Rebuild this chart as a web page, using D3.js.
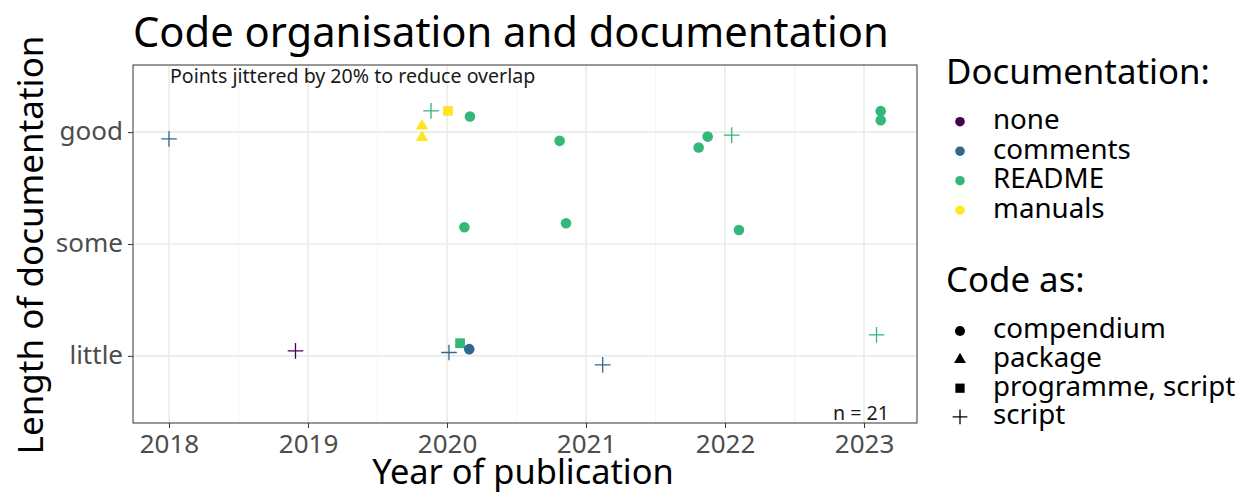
<!DOCTYPE html>
<html><head><meta charset="utf-8">
<script src="https://cdn.jsdelivr.net/npm/d3@7"></script>
<style>body{margin:0;background:#fff}text{font-family:"Noto Sans",sans-serif}</style>
</head><body><svg id="c" width="1238" height="493"></svg>
<script>
const levels = ["little","some","good"];
const xTicks = [2018,2019,2020,2021,2022,2023];
const docLevels = ["none","comments","README","manuals"];
const docColors = ["#440154","#31688E","#35B779","#FDE725"];
const codeLevels = ["compendium","package","programme, script","script"];
// jittered points
const year  = [2018.00,2019.885,2020.007,2020.165,2019.82,2019.82,2020.81,2021.875,2021.81,2022.048,2023.12,2023.12,2020.125,2018.91,2020.014,2020.094,2020.16,2020.856,2022.10,2021.12,2023.09];
const level = ["good","good","good","good","good","good","good","good","good","good","good","good","some","little","little","little","little","some","some","little","little"];
const yJit  = [-0.06,0.19,0.19,0.14,0.056,-0.047,-0.078,-0.04,-0.137,-0.027,0.1875,0.107,0.149,0.045,0.03,0.113,0.06,0.185,0.125,-0.08,0.1875];
const doc   = ["comments","README","manuals","README","manuals","manuals","README","README","README","README","README","README","README","none","comments","README","comments","README","README","comments","README"];
const code  = ["script","script","programme, script","compendium","package","package","compendium","compendium","compendium","script","compendium","compendium","compendium","script","script","programme, script","compendium","compendium","compendium","script","script"];

const svg = d3.select("#c");
const L=133,R=917,T=65,B=423;
const x = d3.scaleLinear().domain([2017.741,2023.381]).range([L,R]);
const y = d3.scaleLinear().domain([0.4,3.6]).range([B,T]);
const yPos = l => levels.indexOf(l)+1;
const color = d3.scaleOrdinal().domain(docLevels).range(docColors);

// grid
const g = svg.append("g");
const minor = d3.range(2017.5,2024,1).filter(v=>v>=x.domain()[0]&&v<=x.domain()[1]);
g.selectAll(".mx").data(minor).join("line").attr("x1",d=>x(d)).attr("x2",d=>x(d)).attr("y1",T).attr("y2",B).attr("stroke","#f2f2f2").attr("stroke-width",0.8);
g.selectAll(".Mx").data(xTicks).join("line").attr("x1",d=>x(d)).attr("x2",d=>x(d)).attr("y1",T).attr("y2",B).attr("stroke","#ebebeb").attr("stroke-width",1.6);
g.selectAll(".My").data([1,2,3]).join("line").attr("x1",L).attr("x2",R).attr("y1",d=>y(d)).attr("y2",d=>y(d)).attr("stroke","#ebebeb").attr("stroke-width",1.6);

// axes
const xa = svg.append("g").attr("transform",`translate(0,${B})`).call(d3.axisBottom(x).tickValues(xTicks).tickFormat(d3.format("d")).tickSize(5).tickPadding(4));
const ya = svg.append("g").attr("transform",`translate(${L},0)`).call(d3.axisLeft(y).tickValues([1,2,3]).tickFormat(d=>levels[d-1]).tickSize(5).tickPadding(5));
[xa,ya].forEach(a=>{a.select(".domain").remove();a.selectAll("line").attr("stroke","#333");a.selectAll("text").attr("fill","#4d4d4d").style("font-size","26px");});
xa.selectAll("text").attr("dy",null).attr("y",null).attr("transform","translate(0,30)");
ya.selectAll("text").attr("dy","0.3em");

svg.append("rect").attr("x",L).attr("y",T).attr("width",R-L).attr("height",B-T).attr("fill","none").attr("stroke","#333").attr("stroke-width",1);

// points
function drawShape(sel, shape, fill, s){
  if(shape==="script"){
    const h=7.8*s;
    sel.append("path").attr("d",`M${-h},0H${h}M0,${-h}V${h}`).attr("stroke",fill).attr("stroke-width",1.3).attr("fill","none");
  } else {
    const type = shape==="compendium"?d3.symbolCircle:shape==="package"?d3.symbolTriangle:d3.symbolSquare;
    const size = shape==="compendium"?88*s*s:shape==="package"?68*s*s:95*s*s;
    sel.append("path").attr("d",d3.symbol().type(type).size(size)()).attr("fill",fill);
  }
}
const pts = svg.append("g");
year.forEach((yr,i)=>{
  const p = pts.append("g").attr("transform",`translate(${x(yr)},${y(yPos(level[i])+yJit[i])})`);
  drawShape(p, code[i], color(doc[i]), 1);
});

// annotations
svg.append("text").attr("x",170).attr("y",83).style("font-size","19.6px").attr("fill","#1a1a1a").text("Points jittered by 20% to reduce overlap");
svg.append("text").attr("x",889).attr("y",420).attr("text-anchor","end").style("font-size","19.6px").attr("fill","#1a1a1a").text("n = " + year.length);

// titles
svg.append("text").attr("x",133).attr("y",47).style("font-size","41.7px").attr("fill","#000").text("Code organisation and documentation");
svg.append("text").attr("x",523).attr("y",484).attr("text-anchor","middle").style("font-size","34.4px").attr("fill","#000").text("Year of publication");
svg.append("text").attr("transform","translate(43,245) rotate(-90)").attr("text-anchor","middle").style("font-size","35px").attr("fill","#000").text("Length of documentation");

// legends
const lg = svg.append("g");
lg.append("text").attr("x",946).attr("y",84).style("font-size","34.8px").text("Documentation:");
docLevels.forEach((d,i)=>{
  const yy = 121.7 + i*29.5;
  lg.append("circle").attr("cx",960).attr("cy",yy).attr("r",4.8).attr("fill",docColors[i]);
  lg.append("text").attr("x",993).attr("y",yy).attr("dy","0.27em").style("font-size","27.7px").text(d);
});
lg.append("text").attr("x",946).attr("y",292).style("font-size","34.8px").text("Code as:");
codeLevels.forEach((d,i)=>{
  const yy = 331 + i*28.6;
  const p = lg.append("g").attr("transform",`translate(960,${yy})`);
  drawShape(p, d, "#000", 0.95);
  lg.append("text").attr("x",993).attr("y",yy).attr("dy","0.27em").style("font-size","27.7px").text(d);
});
</script></body></html>
